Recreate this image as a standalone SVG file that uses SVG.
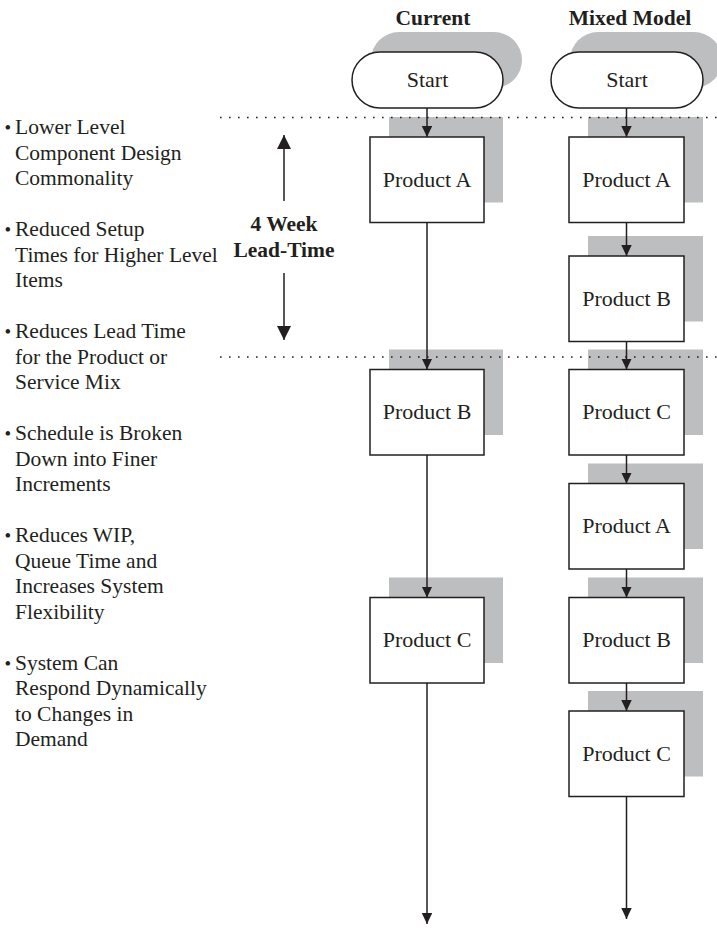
<svg xmlns="http://www.w3.org/2000/svg" width="717" height="932" viewBox="0 0 717 932">
  <style>
    text { font-family: "Liberation Serif", "Times New Roman", serif; fill: #231f20; }
    .lbl { font-size: 22px; }
    .ttl { font-size: 21.5px; font-weight: bold; }
    .note { font-size: 21.5px; }
    .bul { font-size: 19px; }
    .shadow { fill: #bcbec0; stroke: none; }
    .shape { fill: #ffffff; stroke: #231f20; stroke-width: 1.5; }
    .conn { fill: none; stroke: #231f20; stroke-width: 1.5; }
    .sep { fill: none; stroke: #231f20; stroke-width: 1.6; stroke-dasharray: 1.6 7.4; }
  </style>
  <defs>
    <marker id="arrow" markerUnits="userSpaceOnUse" markerWidth="12" markerHeight="11" refX="11" refY="5.25" orient="auto">
      <path d="M0,0 L11,5.25 L0,10.5 Z" fill="#231f20"/>
    </marker>
    <marker id="arrowBig" markerUnits="userSpaceOnUse" markerWidth="15" markerHeight="15" refX="14" refY="7" orient="auto">
      <path d="M0,0 L14,7 L0,14 Z" fill="#231f20"/>
    </marker>
  </defs>

  <rect width="717" height="932" fill="#ffffff"/>

  <!-- column titles -->
  <text class="ttl" x="433" y="25" text-anchor="middle">Current</text>
  <text class="ttl" x="630" y="25" text-anchor="middle">Mixed Model</text>

  <!-- benefit notes -->
  <g id="notes">
    <text class="bul" x="4.5" y="134">•</text>
    <text class="bul" x="4.5" y="236">•</text>
    <text class="bul" x="4.5" y="338">•</text>
    <text class="bul" x="4.5" y="440">•</text>
    <text class="bul" x="4.5" y="542">•</text>
    <text class="bul" x="4.5" y="669.5">•</text>
    <text class="note">
      <tspan x="15" y="134">Lower Level</tspan>
      <tspan x="15" y="159.5">Component Design</tspan>
      <tspan x="15" y="185">Commonality</tspan>
      <tspan x="15" y="236">Reduced Setup</tspan>
      <tspan x="15" y="261.5">Times for Higher Level</tspan>
      <tspan x="15" y="287">Items</tspan>
      <tspan x="15" y="338">Reduces Lead Time</tspan>
      <tspan x="15" y="363.5">for the Product or</tspan>
      <tspan x="15" y="389">Service Mix</tspan>
      <tspan x="15" y="440">Schedule is Broken</tspan>
      <tspan x="15" y="465.5">Down into Finer</tspan>
      <tspan x="15" y="491">Increments</tspan>
      <tspan x="15" y="542">Reduces WIP,</tspan>
      <tspan x="15" y="567.5">Queue Time and</tspan>
      <tspan x="15" y="593">Increases System</tspan>
      <tspan x="15" y="618.5">Flexibility</tspan>
      <tspan x="15" y="669.5">System Can</tspan>
      <tspan x="15" y="695">Respond Dynamically</tspan>
      <tspan x="15" y="720.5">to Changes in</tspan>
      <tspan x="15" y="746">Demand</tspan>
    </text>
  </g>

  <!-- lead-time span -->
  <g id="lead-time">
    <line class="conn" x1="284" y1="201" x2="284" y2="135" marker-end="url(#arrowBig)"/>
    <line class="conn" x1="284" y1="273" x2="284" y2="340" marker-end="url(#arrowBig)"/>
    <text class="ttl" x="284" y="231" text-anchor="middle">4 Week</text>
    <text class="ttl" x="284" y="257" text-anchor="middle">Lead-Time</text>
  </g>

  <!-- Current flow -->
  <g id="cur-start">
    <rect class="shadow" x="371" y="32" width="151" height="56" rx="28"/>
    <rect class="shape" x="352" y="52" width="151" height="56" rx="28"/>
    <text class="lbl" x="427.5" y="87" text-anchor="middle">Start</text>
  </g>
  <g id="cur-a">
    <rect class="shadow" x="389" y="117" width="114" height="85.5"/>
    <rect class="shape" x="370" y="137" width="114" height="85.5"/>
    <text class="lbl" x="427" y="186.5" text-anchor="middle">Product A</text>
  </g>
  <g id="cur-b">
    <rect class="shadow" x="389" y="349.5" width="114" height="85.5"/>
    <rect class="shape" x="370" y="369.5" width="114" height="85.5"/>
    <text class="lbl" x="427" y="419" text-anchor="middle">Product B</text>
  </g>
  <g id="cur-c">
    <rect class="shadow" x="389" y="577.5" width="114" height="85.5"/>
    <rect class="shape" x="370" y="597.5" width="114" height="85.5"/>
    <text class="lbl" x="427" y="647" text-anchor="middle">Product C</text>
  </g>

  <!-- Mixed model flow -->
  <g id="mix-start">
    <rect class="shadow" x="570" y="32" width="152" height="56" rx="28"/>
    <rect class="shape" x="551" y="52" width="152" height="56" rx="28"/>
    <text class="lbl" x="627" y="87" text-anchor="middle">Start</text>
  </g>
  <g id="mix-a1">
    <rect class="shadow" x="588" y="117" width="115" height="85.5"/>
    <rect class="shape" x="569" y="137" width="115" height="85.5"/>
    <text class="lbl" x="626.5" y="186.5" text-anchor="middle">Product A</text>
  </g>
  <g id="mix-b1">
    <rect class="shadow" x="588" y="236" width="115" height="85.5"/>
    <rect class="shape" x="569" y="256" width="115" height="85.5"/>
    <text class="lbl" x="626.5" y="305.5" text-anchor="middle">Product B</text>
  </g>
  <g id="mix-c1">
    <rect class="shadow" x="588" y="349.5" width="115" height="85.5"/>
    <rect class="shape" x="569" y="369.5" width="115" height="85.5"/>
    <text class="lbl" x="626.5" y="419" text-anchor="middle">Product C</text>
  </g>
  <g id="mix-a2">
    <rect class="shadow" x="588" y="463.5" width="115" height="85.5"/>
    <rect class="shape" x="569" y="483.5" width="115" height="85.5"/>
    <text class="lbl" x="626.5" y="533" text-anchor="middle">Product A</text>
  </g>
  <g id="mix-b2">
    <rect class="shadow" x="588" y="577.5" width="115" height="85.5"/>
    <rect class="shape" x="569" y="597.5" width="115" height="85.5"/>
    <text class="lbl" x="626.5" y="647" text-anchor="middle">Product B</text>
  </g>
  <g id="mix-c2">
    <rect class="shadow" x="588" y="691" width="115" height="85.5"/>
    <rect class="shape" x="569" y="711" width="115" height="85.5"/>
    <text class="lbl" x="626.5" y="760.5" text-anchor="middle">Product C</text>
  </g>

  <!-- period boundaries -->
  <g id="boundaries">
    <line class="sep" x1="220" y1="117.5" x2="717" y2="117.5"/>
    <line class="sep" x1="220" y1="357" x2="717" y2="357"/>
  </g>

  <!-- connectors -->
  <g id="connectors">
    <line class="conn" x1="427" y1="108" x2="427" y2="137" marker-end="url(#arrow)"/>
    <line class="conn" x1="427" y1="222.5" x2="427" y2="369.5" marker-end="url(#arrow)"/>
    <line class="conn" x1="427" y1="455" x2="427" y2="597.5" marker-end="url(#arrow)"/>
    <line class="conn" x1="427" y1="683" x2="427" y2="924" marker-end="url(#arrow)"/>

    <line class="conn" x1="626.5" y1="108" x2="626.5" y2="137" marker-end="url(#arrow)"/>
    <line class="conn" x1="626.5" y1="222.5" x2="626.5" y2="256" marker-end="url(#arrow)"/>
    <line class="conn" x1="626.5" y1="341.5" x2="626.5" y2="369.5" marker-end="url(#arrow)"/>
    <line class="conn" x1="626.5" y1="455" x2="626.5" y2="483.5" marker-end="url(#arrow)"/>
    <line class="conn" x1="626.5" y1="569" x2="626.5" y2="597.5" marker-end="url(#arrow)"/>
    <line class="conn" x1="626.5" y1="683" x2="626.5" y2="711" marker-end="url(#arrow)"/>
    <line class="conn" x1="626.5" y1="796.5" x2="626.5" y2="919" marker-end="url(#arrow)"/>
  </g>
</svg>
